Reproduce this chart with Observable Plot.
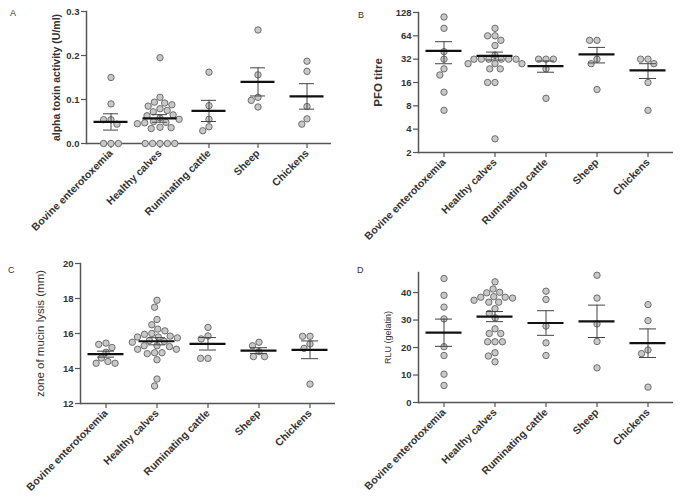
<!DOCTYPE html>
<html><head><meta charset="utf-8">
<script src="https://cdn.jsdelivr.net/npm/d3@7"></script>
<script src="https://cdn.jsdelivr.net/npm/@observablehq/plot@0.6"></script>
<style>
body{margin:0;background:#fff;width:685px;height:502px;position:relative;overflow:hidden;font-family:"Liberation Sans",Arial,sans-serif}
.panel{position:absolute}
.letter{position:absolute;font-size:9px;line-height:1;color:#333}
</style></head><body>
<script>
// Groups (x categories)
const categories = ["Bovine enterotoxemia", "Healthy calves", "Ruminating cattle", "Sheep", "Chickens"];

// Panel A: alpha toxin activity (U/ml), one array per group
const alphaToxin = [
  [0.15, 0.09, 0.054, 0.054, 0.044, 0, 0, 0],
  [0.195, 0.105, 0.094, 0.092, 0.088, 0.085, 0.079, 0.075, 0.072, 0.065, 0.063, 0.058, 0.055, 0.05, 0.048, 0.047, 0.045, 0.037, 0.036, 0.034, 0, 0, 0, 0, 0],
  [0.162, 0.086, 0.055, 0.038, 0.029],
  [0.258, 0.156, 0.105, 0.098, 0.083],
  [0.187, 0.164, 0.084, 0.056, 0.044]
];
const alphaTicks = [0, 0.1, 0.2, 0.3];

// Panel B: PFO titre (log2 axis)
const pfoTitre = [
  [112, 80, 40, 32, 24, 20, 12, 7],
  [80, 64, 64, 56, 48, 36, 32, 32, 32, 32, 32, 32, 28, 28, 28, 24, 24, 16, 16, 3],
  [32, 32, 32, 24, 10],
  [56, 56, 32, 28, 13],
  [32, 32, 28, 16, 7]
];
const pfoTicks = [2, 4, 8, 16, 32, 64, 128];

// Panel C: zone of mucin lysis (mm)
const mucinLysis = [
  [15.45, 15.38, 15.2, 14.93, 14.6, 14.4, 14.3, 14.3],
  [17.9, 17.5, 16.8, 16.5, 16.25, 16.15, 16.0, 15.95, 15.85, 15.8, 15.8, 15.75, 15.6, 15.55, 15.5, 15.3, 15.3, 15.25, 15.1, 15.1, 14.9, 14.9, 14.85, 14.5, 13.4, 13.0],
  [16.35, 15.86, 15.69, 14.58, 14.58],
  [15.5, 15.3, 14.96, 14.68, 14.68],
  [15.84, 15.84, 15.4, 15.15, 13.11]
];
const mucinTicks = [12, 14, 16, 18, 20];

// Panel D: RLU (gelatin)
const rluGelatin = [
  [45.1, 39.0, 34.7, 30.4, 20.3, 17.1, 10.3, 6.2],
  [43.9, 41.3, 40.1, 39.9, 38.5, 38.3, 38.3, 38.0, 37.2, 36.5, 36.5, 34.1, 32.4, 30.8, 26.8, 25.1, 25.1, 22.1, 22.1, 22.1, 18.1, 16.9, 14.8],
  [40.5, 37.5, 27.8, 21.7, 17.1],
  [46.3, 38.0, 28.6, 22.2, 12.6],
  [35.6, 29.8, 19.1, 17.8, 5.6]
];
const rluTicks = [0, 10, 20, 30, 40];

const FONT = "'Liberation Sans', Arial, sans-serif";

function makePanel(cfg) {
  const points = categories.flatMap((c, i) => cfg.values[i].map(v => ({cat: c, v})));
  const summary = categories.map((c, i) => {
    const vals = cfg.values[i];
    const mean = d3.mean(vals);
    const sem = d3.deviation(vals) / Math.sqrt(vals.length);
    return {cat: c, mean, lo: mean - sem, hi: mean + sem};
  });
  const yScale = {domain: cfg.domain};
  if (cfg.log) { yScale.type = "log"; yScale.base = 2; }
  const chart = Plot.plot({
    width: cfg.w, height: cfg.h,
    marginLeft: cfg.ml, marginRight: cfg.mr, marginTop: cfg.mt, marginBottom: cfg.mb,
    style: {fontFamily: FONT, color: "#333", background: "transparent", overflow: "visible"},
    fx: {domain: categories, padding: 0, label: null},
    y: yScale,
    marks: [
      Plot.ruleY([cfg.domain[0]], {stroke: "#555", strokeWidth: 1.5}),
      Plot.frame({anchor: "left", facetAnchor: "left", stroke: "#555", strokeWidth: 1.5}),
      Plot.axisY(cfg.ticks, {tickSize: 5, tickPadding: 2, fontSize: 9.5, fontWeight: "bold", stroke: "#555", strokeWidth: 1.2, label: null, tickFormat: d => String(cfg.fmt ? cfg.fmt(d) : d)}),
      Plot.text([cfg.label], {frameAnchor: "left", facetAnchor: "left", textAnchor: "middle", rotate: -90, dx: -cfg.labelOffset, fontSize: cfg.labelSize, fontWeight: cfg.labelWeight, fill: "#333", text: d => d}),
      Plot.axisFx({anchor: "bottom", tickSize: 5, tickPadding: 3, tickRotate: -45, fontSize: 10.5, fontWeight: "bold", stroke: "#555", strokeWidth: 1.2, label: null}),
      Plot.dot(points, Plot.dodgeX("middle", {fx: "cat", y: "v", r: 3.2, padding: 0, fill: "#c8c8c8", stroke: "#6e6e6e", strokeWidth: 1})),
      Plot.ruleX(summary, {fx: "cat", x: null, y1: "lo", y2: "hi", stroke: "#444", strokeWidth: 1}),
      Plot.ruleY(summary, {fx: "cat", y: "lo", insetLeft: 17, insetRight: 17, stroke: "#444", strokeWidth: 1}),
      Plot.ruleY(summary, {fx: "cat", y: "hi", insetLeft: 17, insetRight: 17, stroke: "#444", strokeWidth: 1}),
      Plot.ruleY(summary, {fx: "cat", y: "mean", insetLeft: 7.5, insetRight: 7.5, stroke: "#111", strokeWidth: 2.2})
    ]
  });
  const div = document.createElement("div");
  div.className = "panel";
  div.style.left = cfg.left + "px";
  div.style.top = cfg.top + "px";
  div.appendChild(chart);
  document.body.appendChild(div);
  const letter = document.createElement("div");
  letter.className = "letter";
  letter.textContent = cfg.letter;
  letter.style.left = cfg.lx + "px";
  letter.style.top = cfg.ly + "px";
  document.body.appendChild(letter);
}

makePanel({values: alphaToxin, domain: [0, 0.3], ticks: alphaTicks, fmt: d => d.toFixed(1),
  label: "alpha toxin activity (U/ml)", labelOffset: 30, labelSize: 10.5, labelWeight: "bold",
  left: 0, top: 0, w: 340, h: 255, ml: 85, mr: 8, mt: 11, mb: 112, letter: "A", lx: 10, ly: 9});
makePanel({values: pfoTitre, domain: [2, 128], log: true, ticks: pfoTicks,
  label: "PFO titre", labelOffset: 40, labelSize: 11.5, labelWeight: "bold",
  left: 340, top: 0, w: 345, h: 255, ml: 77, mr: 12, mt: 12, mb: 103, letter: "B", lx: 358, ly: 11});
makePanel({values: mucinLysis, domain: [12, 20], ticks: mucinTicks,
  label: "zone of mucin lysis (mm)", labelOffset: 40, labelSize: 11.5, labelWeight: "normal",
  left: 0, top: 255, w: 340, h: 247, ml: 78, mr: 4, mt: 8, mb: 99, letter: "C", lx: 8, ly: 266});
makePanel({values: rluGelatin, domain: [0, 47.3], ticks: rluTicks,
  label: "RLU (gelatin)", labelOffset: 30, labelSize: 9, labelWeight: "normal",
  left: 340, top: 255, w: 345, h: 247, ml: 76, mr: 10, mt: 17, mb: 100, letter: "D", lx: 357, ly: 266});
</script>
</body></html>
